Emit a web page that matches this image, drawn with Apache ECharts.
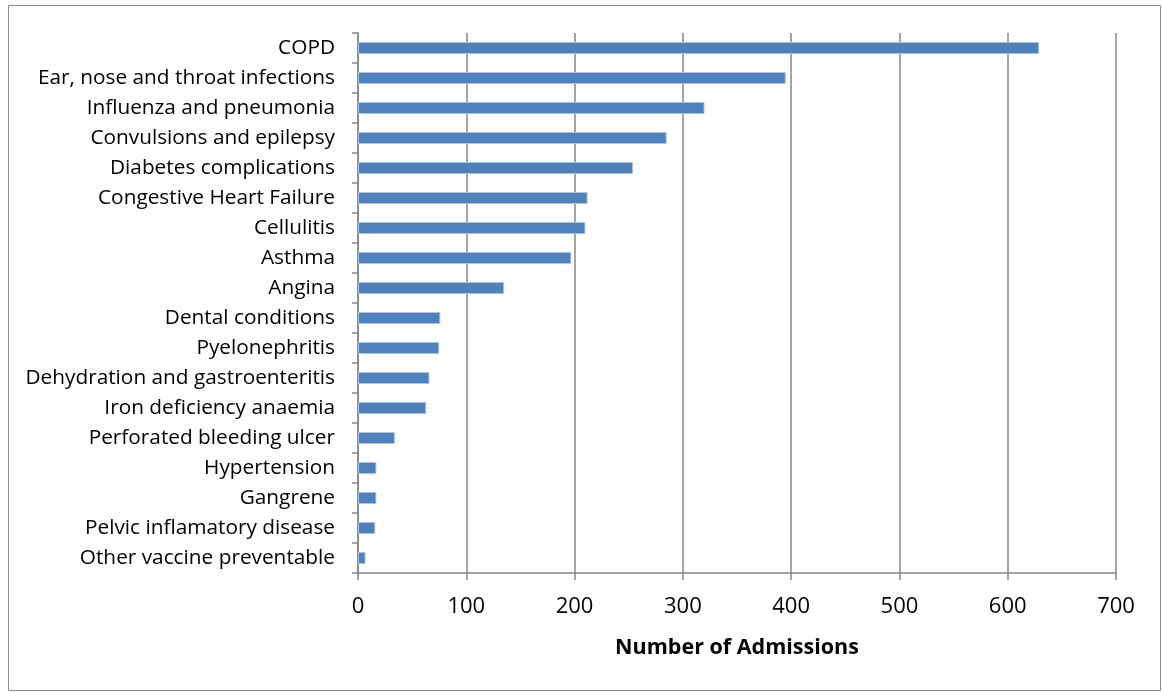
<!DOCTYPE html>
<html><head><meta charset="utf-8">
<script src="https://cdn.jsdelivr.net/npm/echarts@6/dist/echarts.min.js"></script>
<style>html,body{margin:0;padding:0;background:#fff}#c{width:1162px;height:692px}</style>
</head><body><div id="c"></div>
<script>
const categories = ["COPD","Ear, nose and throat infections","Influenza and pneumonia","Convulsions and epilepsy","Diabetes complications","Congestive Heart Failure","Cellulitis","Asthma","Angina","Dental conditions","Pyelonephritis","Dehydration and gastroenteritis","Iron deficiency anaemia","Perforated bleeding ulcer","Hypertension","Gangrene","Pelvic inflamatory disease","Other vaccine preventable"];
const admissions = [629,395,320,285,254,212,210,197,135,76,75,66,63,34,17,17,16,7];
const xTicks = {min:0,max:700,interval:100};
const xTitle = "Number of Admissions";

const chart = echarts.init(document.getElementById('c'), null, {renderer:'canvas'});
const FONT = 'Open Sans';
chart.setOption({
  animation:false,
  backgroundColor:'#fff',
  graphic:[{type:'rect',shape:{x:8.5,y:5.5,width:1152,height:685},style:{fill:'none',stroke:'#8c8c8c',lineWidth:1},silent:true}],
  grid:{left:358,right:46,top:33,bottom:119,containLabel:false},
  xAxis:{type:'value',min:xTicks.min,max:xTicks.max,interval:xTicks.interval,
    name:xTitle,nameLocation:'middle',nameGap:64,
    nameTextStyle:{fontFamily:FONT,fontWeight:'bold',fontSize:21.5,color:'#000'},
    axisLine:{show:true,lineStyle:{color:'#868686',width:1.5}},
    axisTick:{show:true,length:7,lineStyle:{color:'#868686',width:1.5}},
    axisLabel:{fontFamily:FONT,fontSize:22,color:'#000',margin:23},
    splitLine:{show:true,lineStyle:{color:'#868686',width:1.5}}},
  yAxis:{type:'category',data:categories,inverse:true,
    axisLine:{show:true,lineStyle:{color:'#868686',width:1.5}},
    axisTick:{show:true,length:6,lineStyle:{color:'#868686',width:1.5}},
    axisLabel:{fontFamily:FONT,fontSize:20.8,color:'#000',margin:23}},
  series:[{type:'bar',data:admissions,barWidth:12,
    itemStyle:{color:'#4f81bd',borderColor:'#a9c1e2',borderWidth:1}}]
});
</script></body></html>
